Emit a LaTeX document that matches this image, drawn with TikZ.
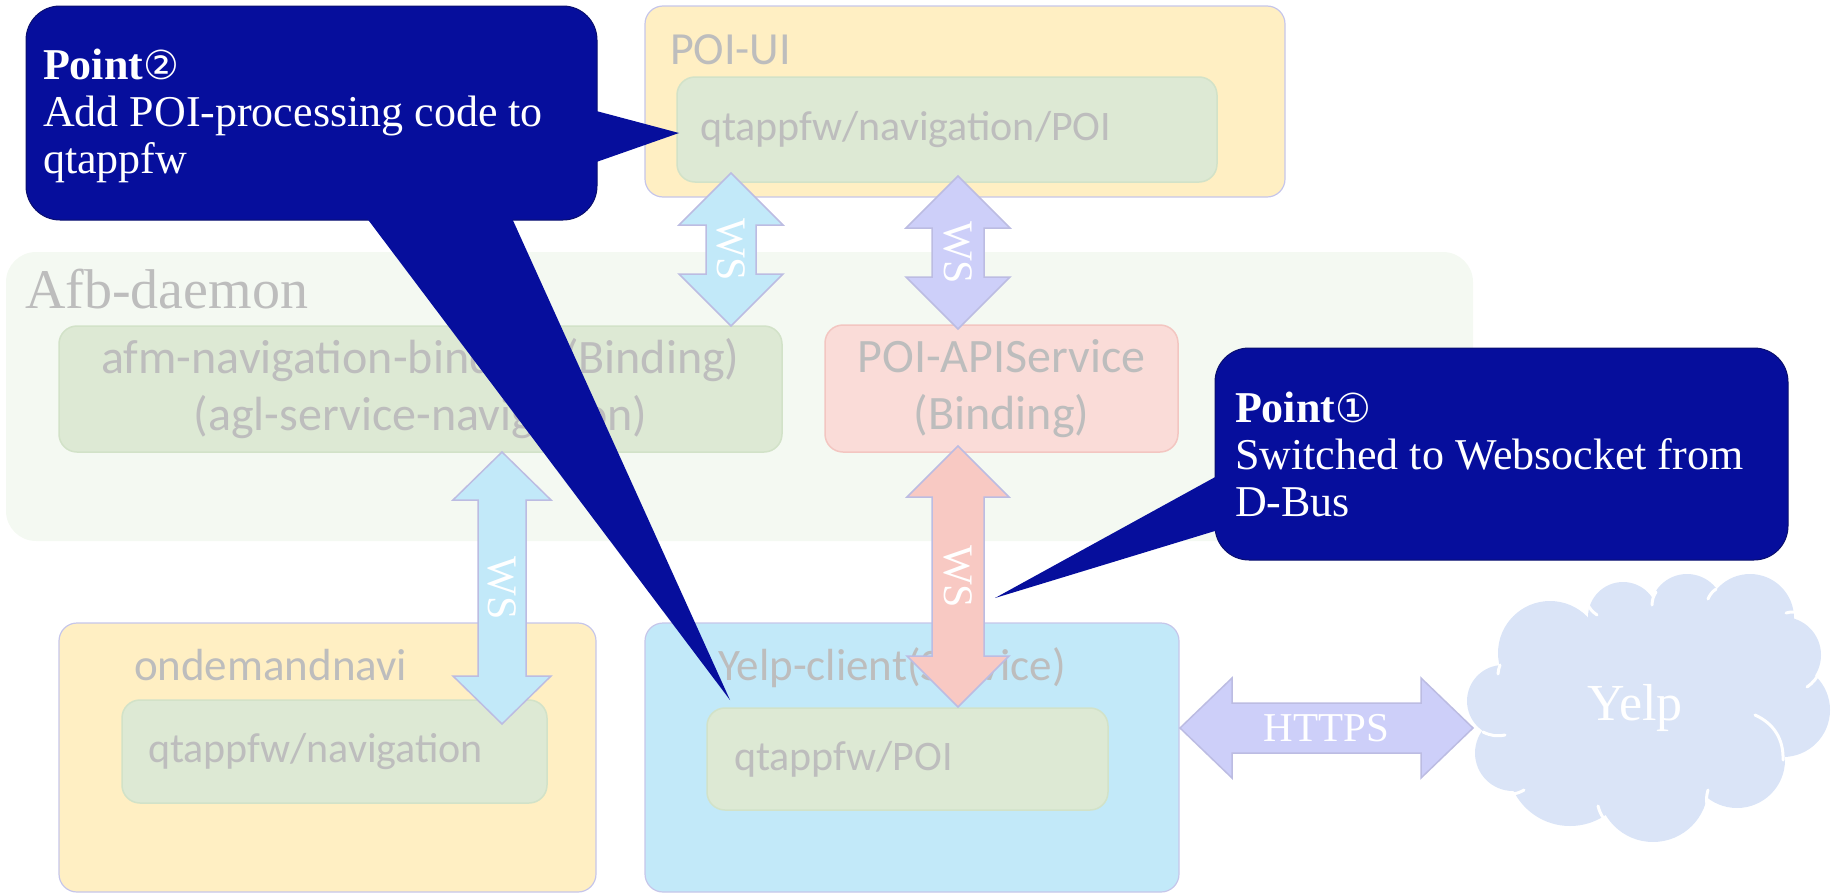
\documentclass[tikz,border=0pt]{standalone}
\usepackage{fontspec}
\setmainfont{Liberation Serif}
\newfontfamily\carl{Carlito}
\newfontfamily\djv{DejaVu Sans}
\usetikzlibrary{calc}
\definecolor{cdark}{HTML}{060E9C}
\definecolor{cdarkb}{HTML}{0A0F6E}
\definecolor{cyel}{HTML}{FFEFC3}
\definecolor{clav}{HTML}{C6C6EA}
\definecolor{carrb}{HTML}{BCBCE2}
\definecolor{cgrn}{HTML}{DDE9D4}
\definecolor{cgrnb}{HTML}{D2E2C8}
\definecolor{cafb}{HTML}{F4F9F2}
\definecolor{cpink}{HTML}{FADCD8}
\definecolor{cpinkb}{HTML}{F3C6C1}
\definecolor{cblue}{HTML}{C2E9F9}
\definecolor{cwsl}{HTML}{CDCFF9}
\definecolor{cwsp}{HTML}{F8C9C3}
\definecolor{ccloud}{HTML}{DAE4F7}
\definecolor{cgray}{HTML}{BDBDBD}
% vertical fat double arrow: top, bottom, fill, head half width, shaft half width, head length
\newcommand\vdarr[6]{%
  \draw[fill=#3, draw=carrb, line width=1.5, line join=miter] let \p1=(#1), \p2=(#2) in
    (\p1) -- (\x1+#4pt,\y1-#6pt) -- (\x1+#5pt,\y1-#6pt) -- (\x1+#5pt,\y2+#6pt)
    -- (\x1+#4pt,\y2+#6pt) -- (\p2) -- (\x1-#4pt,\y2+#6pt) -- (\x1-#5pt,\y2+#6pt)
    -- (\x1-#5pt,\y1-#6pt) -- (\x1-#4pt,\y1-#6pt) -- cycle;}
% horizontal fat double arrow: left, right, fill, head half width, shaft half width, head length
\newcommand\hdarr[6]{%
  \draw[fill=#3, draw=carrb, line width=1.5, line join=miter] let \p1=(#1), \p2=(#2) in
    (\p1) -- (\x1+#6pt,\y1+#4pt) -- (\x1+#6pt,\y1+#5pt) -- (\x2-#6pt,\y1+#5pt)
    -- (\x2-#6pt,\y1+#4pt) -- (\p2) -- (\x2-#6pt,\y1-#4pt) -- (\x2-#6pt,\y1-#5pt)
    -- (\x1+#6pt,\y1-#5pt) -- (\x1+#6pt,\y1-#4pt) -- cycle;}
\begin{document}
\begin{tikzpicture}[x=1pt,y=-1pt,
  every node/.style={inner sep=0pt, outer sep=0pt},
  bigbox/.style={draw=clav, line width=1.2, rounded corners=18, anchor=north west},
  inbox/.style={draw=cgrnb, fill=cgrn, line width=1.5, rounded corners=18, anchor=north west},
  gt/.style={text=cgray, font=\carl\fontsize{#1}{#1}\selectfont},
  wslab/.style={text=white, rotate=-90, font=\fontsize{42}{42}\selectfont},
  callbox/.style={fill=cdark, draw=cdarkb, line width=1, rounded corners=34, anchor=north west},
  calltext/.style={text=white, anchor=base west, font=\fontsize{44}{47}\selectfont},
  ptr/.style={fill=cdark},
  puffline/.style={draw=white, line width=3, line cap=round}]
\useasboundingbox (0,0) rectangle (1836,894);
% Afb-daemon
\node[fill=cafb, rounded corners=30, anchor=north west, minimum width=1467, minimum height=289] (afb) at (6,252) {};
\node[anchor=base west, text=cgray, font=\fontsize{56}{56}\selectfont] (afbt) at (25,308) {Afb-daemon};
% POI-UI
\node[bigbox, fill=cyel, minimum width=640, minimum height=191] (poiui) at (645,6) {};
\node[gt=46, anchor=base west] (poiuit) at (670,64) {POI-UI};
\node[inbox, minimum height=105, text width=494, inner xsep=23, align=left, gt=42] (poiuiin) at (677,77) {qtappfw/navigation/POI};
% bindings
\node[inbox, minimum width=723, minimum height=126, align=center, text=cgray, font=\carl\fontsize{48}{57}\selectfont] (afm) at (59,326) {afm-navigation-binding (Binding)\\(agl-service-navigation)};
\node[inbox, fill=cpink, draw=cpinkb, minimum width=353, minimum height=127, align=center, text=cgray, font=\carl\fontsize{48}{57}\selectfont] (poiapi) at (825,325) {POI-APIService\\(Binding)};
% ondemandnavi
\node[bigbox, fill=cyel, minimum width=537, minimum height=269] (ond) at (59,623) {};
\node[gt=45, anchor=base west] (ondt) at (134,680) {ondemandnavi};
\node[inbox, minimum height=103, text width=373, inner xsep=26, align=left, gt=42] (ondin) at (122,700) {qtappfw/navigation};
% Yelp-client
\node[bigbox, fill=cblue, minimum width=534, minimum height=269] (yc) at (645,623) {};
\node[gt=45, anchor=base west] (yct) at (718,680) {Yelp-client(Service)};
\node[inbox, minimum height=102, text width=347, inner xsep=27, align=left, gt=42] (ycin) at (707,708) {qtappfw/POI};
% cloud (union of puffs)
\fill[ccloud] (1503,701) circle (36) (1550,653) circle (52) (1623,617) circle (35)
  (1687,611) circle (37) (1750,618) circle (44) (1783,655) circle (38) (1783,710) circle (47)
  (1737,760) circle (48) (1653,787) circle (55) (1570,763) circle (63) (1513,753) circle (38)
  (1648,708) ellipse (140 and 100);
\node[text=white, anchor=base, font=\fontsize{52}{52}\selectfont] (yelp) at (1635,720) {Yelp};
\coordinate (q1a) at (1587,603); \coordinate (q1b) at (1597,615);
\coordinate (q2a) at (1652,605); \coordinate (q2b) at (1656,592);
\coordinate (q3a) at (1708,599); \coordinate (q3b) at (1716,589);
\coordinate (q4a) at (1786,613); \coordinate (q4b) at (1795,612);
\coordinate (q5a) at (1807,687); \coordinate (q5b) at (1820,671);
\coordinate (q6a) at (1755,715); \coordinate (q6b) at (1783,760);
\coordinate (q7a) at (1708,790); \coordinate (q7b) at (1707,805);
\coordinate (q8a) at (1598,806); \coordinate (q8b) at (1604,819);
\coordinate (q9a) at (1513,794); \coordinate (q9b) at (1524,790);
\coordinate (q10a) at (1483,732); \coordinate (q10b) at (1505,735);
\coordinate (q11a) at (1500,665); \coordinate (q11b) at (1498,674);
\draw[puffline] (q1a) to[bend right=15] (q1b);
\draw[puffline] (q2a) to[bend left=15] (q2b);
\draw[puffline] (q3a) to[bend left=15] (q3b);
\draw[puffline] (q4a) to[bend left=10] (q4b);
\draw[puffline] (q5a) to[bend right=15] (q5b);
\draw[puffline] (q6a) to[bend left=34] (q6b);
\draw[puffline] (q7a) to[bend right=12] (q7b);
\draw[puffline] (q8a) to[bend right=10] (q8b);
\draw[puffline] (q9a) to[bend right=10] (q9b);
\draw[puffline] (q10a) to[bend right=18] (q10b);
\draw[puffline] (q11a) to[bend right=8] (q11b);
% arrow end points
\coordinate (waT) at (731,173); \coordinate (waB) at (731,326);
\coordinate (wbT) at (958,176); \coordinate (wbB) at (958,329);
\coordinate (wcT) at (502,452); \coordinate (wcB) at (502,724);
\coordinate (wdT) at (958,446); \coordinate (wdB) at (958,707);
\coordinate (hL) at (1180,728); \coordinate (hR) at (1473,728);
\vdarr{waT}{waB}{cblue}{52}{25}{52}
\node[wslab] (wal) at ($(waT)!0.5!(waB)$) {WS};
\vdarr{wbT}{wbB}{cwsl}{52}{26}{52}
\node[wslab] (wbl) at ($(wbT)!0.5!(wbB)$) {WS};
\vdarr{wcT}{wcB}{cblue}{49}{24}{48}
\node[wslab] (wcl) at ($(wcT)!0.5!(wcB)$) {WS};
\vdarr{wdT}{wdB}{cwsp}{51}{26}{51}
\node[wslab] (wdl) at ($(wdT)!0.5!(wdB)$) {WS};
\hdarr{hL}{hR}{cwsl}{50}{25}{52}
\node[text=white, font=\fontsize{41}{41}\selectfont] (hl) at ($(hL)!0.5!(hR)$) {HTTPS};
% callout 2
\node[callbox, minimum width=571, minimum height=214] (c2) at (26,6) {};
\fill[ptr] (585,108) -- (679,133) -- (585,166) -- cycle;
\fill[ptr] (357,205) -- (730,700) -- (506,205) -- cycle;
\node[calltext] (c2t) at (43,79) {\vtop{\hbox{\bfseries Point{\mdseries\djv\fontsize{40}{40}\selectfont ②}}\hbox{Add POI-processing code to}\hbox{qtappfw}}};
% callout 1
\node[callbox, minimum width=573, minimum height=212] (c1) at (1215,348) {};
\fill[ptr] (1228,470) -- (995,598) -- (1228,527) -- cycle;
\node[calltext] (c1t) at (1235,422) {\vtop{\hbox{\bfseries Point{\mdseries\djv\fontsize{40}{40}\selectfont ①}}\hbox{Switched to Websocket from}\hbox{D-Bus}}};
\end{tikzpicture}
\end{document}
